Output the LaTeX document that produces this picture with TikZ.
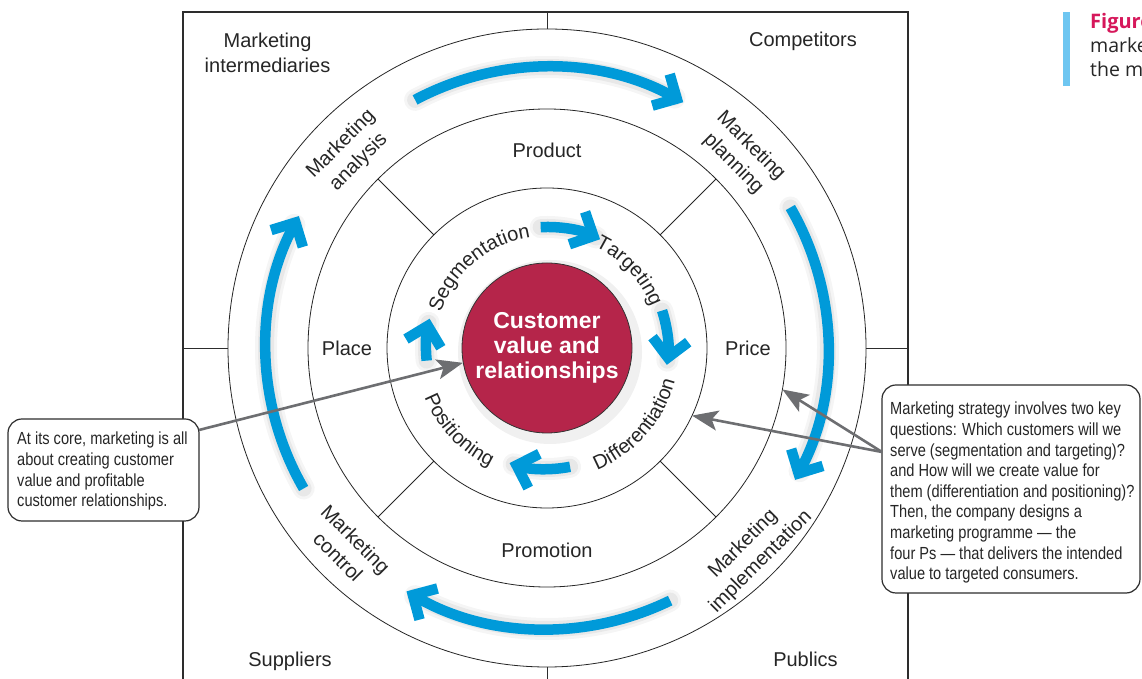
\documentclass[tikz,border=0pt]{standalone}
\usepackage{fontspec}
\setmainfont{Liberation Sans}
\newfontfamily\narrowfont{Liberation Sans}[FakeStretch=0.835]
\newfontfamily\capfont{Open Sans}
\usetikzlibrary{arrows.meta,decorations.text}
\definecolor{mblue}{RGB}{0,154,217}
\definecolor{mred}{RGB}{181,37,74}
\definecolor{mgray}{RGB}{109,110,113}
\definecolor{mline}{RGB}{45,45,45}
\definecolor{mmag}{RGB}{214,24,91}
\definecolor{mbar}{RGB}{110,198,241}
\begin{document}
\begin{tikzpicture}[x=1pt,y=1pt,
  ring/.style={circle, draw=black!85, line width=0.8pt, inner sep=0pt, outer sep=0pt},
  lbl/.style={font=\fontsize{20}{25}\selectfont, text=black!85, align=center, inner sep=0pt},
  bluearc/.style={draw=mblue, line width=10.5pt, line cap=butt, -{Straight Barb[length=18pt,width=36pt,line join=miter]}},
  shad/.style={draw=black, line cap=round},
  grayarrow/.style={draw=mgray, line width=2.6pt, -{Stealth[length=26pt,width=20pt,inset=6pt]}},
  calloutbox/.style={draw=mline, line width=1.2pt, rounded corners=14pt, fill=white, inner sep=0pt, outer sep=0pt},
  callouttext/.style={inner sep=0pt, align=left, anchor=north west, font=\narrowfont\fontsize{17.5}{20.6}\selectfont, text=black!85},
  curvetext/.style={decorate, decoration={text along path, text align=center, text color=black!85, text={|\fontsize{20}{24}\selectfont|#1}}}
]
\useasboundingbox (0,0) rectangle (1142,679);
\fill[white] (0,0) rectangle (1142,679);

% outer frame
\draw[mline, line width=1.4pt] (183,-20) -- (183,667) -- (908,667) -- (908,-20);

\coordinate (C) at (547,331);
\node[ring, minimum size=638pt] (r4) at (C) {};
\node[ring, minimum size=478pt] (r3) at (C) {};
\node[ring, minimum size=320pt] (r2) at (C) {};

% quadrant ticks
\draw[mline, line width=0.9pt] (547,667) -- (r4.north);
\draw[mline, line width=0.9pt] (r4.south) -- (547,-20);
\draw[mline, line width=0.9pt] (183,331) -- (r4.west);
\draw[mline, line width=0.9pt] (r4.east) -- (908,331);
\foreach \a in {45,135,225,315} \draw[black!85, line width=0.8pt] (r2.\a) -- (r3.\a);

% corner labels
\node[lbl] (inter) at (267.5,626.5) {Marketing\\intermediaries};
\node[lbl, anchor=base] (comp) at (803,632) {Competitors};
\node[lbl, anchor=base] (supp) at (290,12) {Suppliers};
\node[lbl, anchor=base] (pub) at (805.5,12) {Publics};

% four Ps
\node[lbl] (product) at (547,529) {Product};
\node[lbl] (place) at (347,331) {Place};
\node[lbl] (price) at (748,331) {Price};
\node[lbl] (promo) at (547,129) {Promotion};

% outer ring labels
\node[lbl, rotate=45] (ana) at (350,526) {Marketing\\analysis};
\node[lbl, rotate=-45] (plan) at (742,524) {Marketing\\planning};
\node[lbl, rotate=45] (impl) at (752,126) {Marketing\\implementation};
\node[lbl, rotate=-45] (ctrl) at (347,131) {Marketing\\control};

% shadows of blue arrows
\begin{scope}[shift={(3,-4)}]
\foreach \s/\e/\r in {118/63/281, 30/-26/281, -64/-118/281, 210/154/281, 93/66/121, 18/-6/121, -79/-106/121, 186/168/121}{
  \draw[shad, opacity=0.04, line width=22pt] ([shift={(\s:\r)}]C) arc[start angle=\s, end angle=\e, radius=\r];
  \draw[shad, opacity=0.05, line width=16pt] ([shift={(\s:\r)}]C) arc[start angle=\s, end angle=\e, radius=\r];
}
\end{scope}

% outer blue arrows
\foreach \s/\e in {118/61, 30/-28, -64/-120, 210/152}
  \draw[bluearc] ([shift={(\s:281)}]C) arc[start angle=\s, end angle=\e, radius=281];
% inner blue arrows
\foreach \s/\e in {93/64, 18/-8, -79/-108, 186/166}
  \draw[bluearc] ([shift={(\s:121)}]C) arc[start angle=\s, end angle=\e, radius=121];

% curved inner labels
\path[curvetext=Segmentation] ([shift={(170:112)}]C) arc[start angle=170, end angle=90, radius=112];
\path[curvetext=Targeting] ([shift={(80:112)}]C) arc[start angle=80, end angle=6, radius=112];
\path[curvetext=Differentiation] ([shift={(-82:132)}]C) arc[start angle=-82, end angle=0, radius=132];
\path[curvetext=Positioning] ([shift={(188:132)}]C) arc[start angle=188, end angle=258, radius=132];

% centre
\fill[black, opacity=0.06] ([shift={(3,-4)}]C) circle[radius=92];
\node[circle, fill=mred, draw=black!80, line width=0.8pt, minimum size=170pt, inner sep=0pt,
      font=\bfseries\fontsize{23}{25}\selectfont, text=white, align=center] (core) at (C)
      {Customer\\value and\\relationships};

% callouts
\node[calloutbox, minimum width=191pt, minimum height=102pt] (lbox) at (103.5,209) {};
\node[callouttext] (ltext) at ([shift={(9,-13)}]lbox.north west)
  {At its core, marketing is all\\about creating customer\\value and profitable\\customer relationships.};
\node[calloutbox, minimum width=258pt, minimum height=208pt] (rbox) at (1011,190) {};
\node[callouttext] (rtext) at ([shift={(8,-17)}]rbox.north west)
  {Marketing strategy involves two key\\questions: Which customers will we\\serve (segmentation and targeting)?\\and How will we create value for\\them (differentiation and positioning)?\\Then, the company designs a\\marketing programme — the\\four Ps — that delivers the intended\\value to targeted consumers.};

\draw[grayarrow] ([yshift=-11pt]lbox.north east) -- (core.190);
\coordinate (rstart) at ([yshift=-67pt]rbox.north west);
\draw[grayarrow] (rstart) -- (r3.-10.5);
\draw[grayarrow] (rstart) -- (r2.-25.6);

% figure caption fragment
\fill[mbar] (1063,593) rectangle (1070,667);
\node[anchor=base west, inner sep=0pt, font=\capfont\bfseries\fontsize{20}{23}\selectfont, text=mmag] (fig1) at (1090,650) {Figure};
\node[anchor=base west, inner sep=0pt, font=\capfont\fontsize{19.5}{23}\selectfont, text=black!85] (fig2) at (1090,626) {marketing};
\node[anchor=base west, inner sep=0pt, font=\capfont\fontsize{19.5}{23}\selectfont, text=black!85] (fig3) at (1090,602) {the marketing};
\end{tikzpicture}
\end{document}
